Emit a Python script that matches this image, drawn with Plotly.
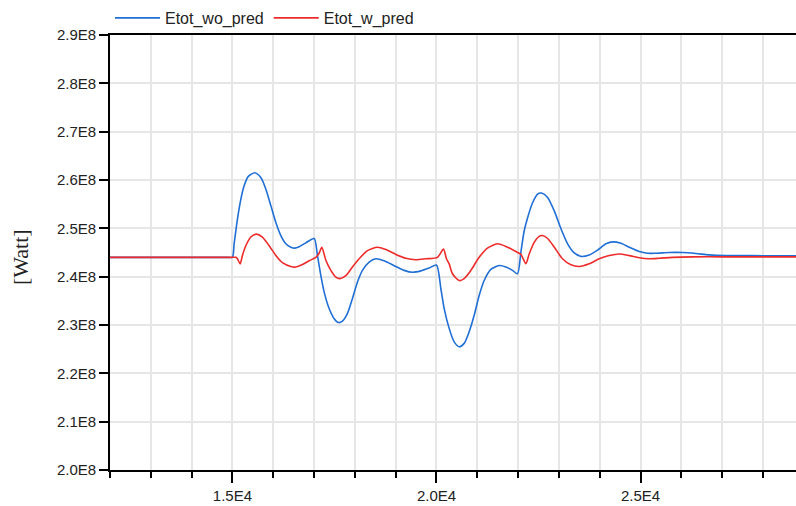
import plotly.graph_objects as go

# Simulation time [s] and total power [1E8 W] for the two controller variants
time_wo = [12000, 13000, 14000, 14700, 14900, 15000, 15042, 15123, 15206, 15287,
           15385, 15549, 15696, 15819, 15941, 16064, 16186, 16309, 16431, 16529,
           16635, 16799, 17003, 17083, 17167, 17248, 17370, 17493, 17598, 17696,
           17819, 17941, 18064, 18186, 18350, 18514, 18636, 18799, 19005, 19209,
           19412, 19618, 19822, 20000, 20108, 20189, 20311, 20434, 20556, 20679,
           20801, 20924, 21046, 21169, 21333, 21537, 21701, 21863, 21985, 22069,
           22150, 22233, 22355, 22478, 22576, 22723, 22887, 23051, 23213, 23377,
           23540, 23743, 23947, 24153, 24332, 24520, 24724, 24968, 25172, 25377,
           25703, 26029, 26356, 26682, 27091, 27743, 28300, 28810]
etot_wo_pred = [2.440, 2.440, 2.440, 2.440, 2.440, 2.440, 2.468, 2.519, 2.560, 2.588,
                2.607, 2.615, 2.605, 2.581, 2.547, 2.512, 2.485, 2.468, 2.461, 2.459,
                2.462, 2.470, 2.479, 2.444, 2.402, 2.368, 2.334, 2.313, 2.305, 2.308,
                2.324, 2.355, 2.389, 2.413, 2.430, 2.437, 2.435, 2.430, 2.421, 2.413,
                2.409, 2.412, 2.418, 2.424, 2.375, 2.334, 2.293, 2.265, 2.255, 2.262,
                2.286, 2.320, 2.361, 2.392, 2.415, 2.423, 2.420, 2.413, 2.406, 2.451,
                2.495, 2.522, 2.553, 2.571, 2.573, 2.564, 2.536, 2.499, 2.468, 2.449,
                2.442, 2.445, 2.455, 2.468, 2.472, 2.469, 2.461, 2.452, 2.4485, 2.4485,
                2.450, 2.450, 2.448, 2.445, 2.4436, 2.4436, 2.443, 2.443]

time_w = [12000, 13000, 14000, 14700, 14950, 15083, 15123, 15189, 15245, 15328,
          15451, 15588, 15735, 15900, 16064, 16226, 16431, 16554, 16716, 16880,
          17044, 17126, 17191, 17289, 17412, 17534, 17632, 17779, 17941, 18105,
          18309, 18554, 18760, 19005, 19250, 19495, 19740, 20024, 20171, 20245,
          20311, 20392, 20556, 20679, 20843, 21046, 21250, 21495, 21740, 21946,
          22069, 22191, 22272, 22395, 22518, 22599, 22723, 22887, 23088, 23294,
          23498, 23743, 23988, 24233, 24478, 24724, 24968, 25213, 25458, 25785,
          26274, 27000, 27800, 28810]
etot_w_pred = [2.440, 2.440, 2.440, 2.440, 2.440, 2.440, 2.437, 2.4265, 2.444, 2.464,
               2.482, 2.488, 2.482, 2.464, 2.444, 2.429, 2.421, 2.420, 2.425, 2.433,
               2.440, 2.449, 2.461, 2.434, 2.413, 2.399, 2.396, 2.402, 2.420, 2.437,
               2.454, 2.461, 2.456, 2.446, 2.438, 2.435, 2.437, 2.440, 2.457, 2.437,
               2.4265, 2.406, 2.392, 2.396, 2.413, 2.440, 2.459, 2.468, 2.461, 2.452,
               2.446, 2.427, 2.447, 2.471, 2.4835, 2.485, 2.479, 2.461, 2.437, 2.4245,
               2.421, 2.4265, 2.437, 2.4436, 2.447, 2.4436, 2.439, 2.437, 2.438, 2.440,
               2.441, 2.441, 2.441, 2.441]

SCALE = 1e8

y_tick_vals = [2.0, 2.1, 2.2, 2.3, 2.4, 2.5, 2.6, 2.7, 2.8, 2.9]
y_tick_text = ["2.0E8", "2.1E8", "2.2E8", "2.3E8", "2.4E8",
               "2.5E8", "2.6E8", "2.7E8", "2.8E8", "2.9E8"]
x_tick_vals = [15000, 20000, 25000]
x_tick_text = ["1.5E4", "2.0E4", "2.5E4"]

FONT = "Liberation Sans, Arial, sans-serif"
GRID = "#e6e6e6"

fig = go.Figure()
fig.add_trace(go.Scatter(
    x=time_wo, y=[v * SCALE for v in etot_wo_pred], mode="lines",
    name="Etot_wo_pred",
    line=dict(color="#1f6fd6", width=1.6, shape="spline", smoothing=0.7)))
fig.add_trace(go.Scatter(
    x=time_w, y=[v * SCALE for v in etot_w_pred], mode="lines",
    name="Etot_w_pred",
    line=dict(color="#ee2b2b", width=1.6, shape="spline", smoothing=0.7)))

fig.update_layout(
    width=796, height=506,
    margin=dict(l=110, r=0, t=35, b=36),
    paper_bgcolor="white", plot_bgcolor="white",
    font=dict(family=FONT, size=15, color="#222222"),
    showlegend=True,
    legend=dict(orientation="h", x=0, xanchor="left", y=1.0, yanchor="bottom",
                font=dict(family=FONT, size=16, color="#222222"),
                itemwidth=45, bgcolor="rgba(0,0,0,0)"),
    annotations=[dict(
        text="[Watt]", textangle=-90, showarrow=False,
        xref="paper", yref="paper", x=-90 / 686, y=213 / 435,
        xanchor="center", yanchor="middle",
        font=dict(family="Liberation Serif, Times New Roman, serif",
                  size=22, color="#222222"))],
)

fig.update_xaxes(
    range=[12000, 28810],
    tickmode="array", tickvals=x_tick_vals, ticktext=x_tick_text,
    ticks="outside", ticklen=11, tickwidth=1.5, tickcolor="black",
    showline=True, linecolor="black", linewidth=1.8, mirror=True,
    showgrid=True, gridcolor=GRID, gridwidth=1.5, zeroline=False,
    minor=dict(tickmode="linear", tick0=12000, dtick=1000, ticks="outside",
               ticklen=6, tickwidth=1.5, tickcolor="black",
               showgrid=True, gridcolor=GRID, gridwidth=1.5),
    tickfont=dict(family=FONT, size=15, color="#222222"),
)

fig.update_yaxes(
    range=[2.0 * SCALE, 2.9 * SCALE],
    tickmode="array", tickvals=[v * SCALE for v in y_tick_vals], ticktext=y_tick_text,
    ticks="outside", ticklen=9, tickwidth=1.5, tickcolor="black",
    showline=True, linecolor="black", linewidth=1.8,
    showgrid=True, gridcolor=GRID, gridwidth=1.5, zeroline=False,
    tickfont=dict(family=FONT, size=15, color="#222222"),
)

fig.write_html("out.html")
